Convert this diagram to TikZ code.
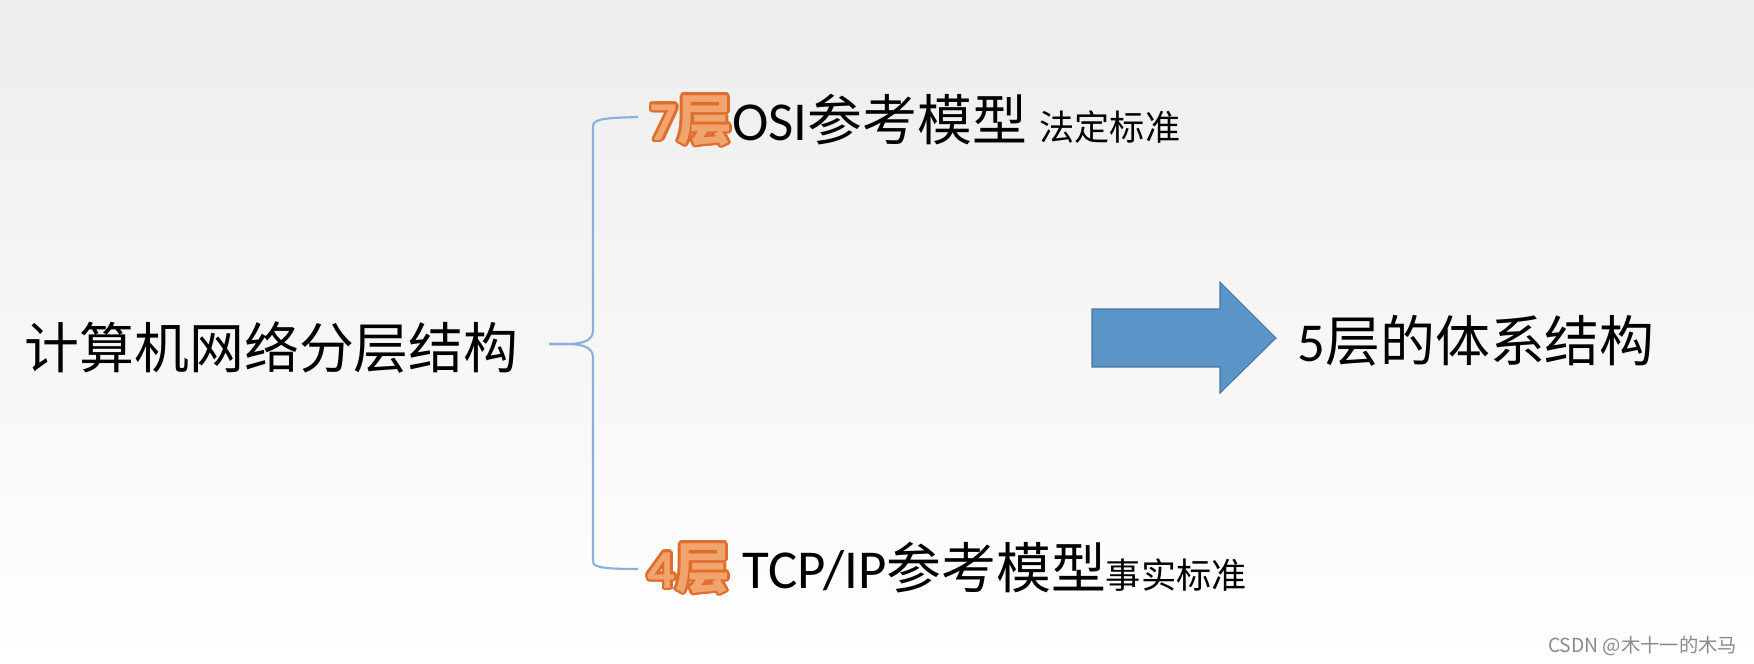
\documentclass[tikz,border=0pt]{standalone}
\usepackage{fontspec}
\setmainfont{Carlito}
\newfontfamily\cjk{Noto Sans CJK SC}
\usepackage{contour}
\contourlength{0.75pt}
\definecolor{bracecol}{HTML}{8AB0DC}
\definecolor{arrowcol}{HTML}{5B95C8}
\definecolor{layerline}{HTML}{DD6E2E}
\definecolor{layerfill}{HTML}{F2A46E}
\definecolor{markcol}{HTML}{8A8A8A}
\newcommand{\layernum}[2]{\contour{layerline}{\textcolor{layerfill}{\bfseries #1{\cjk\bfseries #2}}}}
\newcommand{\smalltext}{\fontsize{10}{12}\selectfont}

\begin{document}
\begin{tikzpicture}[x=0.01cm, y=-0.01cm,
    font=\fontsize{15.6}{19}\selectfont,
    label/.style={anchor=base west, inner sep=0pt},
    brace/.style={bracecol, line width=0.6pt}]
    % background
    \useasboundingbox (0,0) rectangle (1754,663);
    \shade[top color=black!7, middle color=black!2, bottom color=white] (0,0) rectangle (1754,663);

    % root and the two models
    \node[label] (root) at (24,368) {\cjk 计算机网络分层结构};
    \node[label] (osi) at (649,140) {\layernum{7}{层}OSI{\cjk 参考模型} {\cjk\smalltext 法定标准}};
    \node[label] (tcp) at (647,588) {\layernum{4}{层} TCP/IP{\cjk 参考模型}{\cjk\smalltext 事实标准}};

    % brace
    \coordinate (tip) at (549,344);
    \coordinate (osiend) at (638,117);
    \coordinate (tcpend) at (638,569);
    \draw[brace] (osiend) .. controls (610,118) and (593,118) .. (593,126) -- (593,330)
        .. controls (593,340) and (585,344) .. (565,344) -- (tip);
    \draw[brace] (tip) -- (565,344) .. controls (585,344) and (593,348) .. (593,358)
        -- (593,562) .. controls (593,568) and (610,569) .. (tcpend);

    % arrow to the 5-layer model
    \draw[fill=arrowcol, draw=arrowcol!80!black, line width=0.3pt]
        (1092,309) -- (1220,309) -- (1220,282) -- (1276,338) -- (1220,393)
        -- (1220,367) -- (1092,367) -- cycle;
    \node[label] (five) at (1297,361) {5{\cjk 层的体系结构}};

    % watermark
    \node[anchor=base east, inner sep=0pt, markcol, font=\cjk\fontsize{5.5}{7}\selectfont] (mark) at (1738,652) {CSDN @木十一的木马};
\end{tikzpicture}
\end{document}
